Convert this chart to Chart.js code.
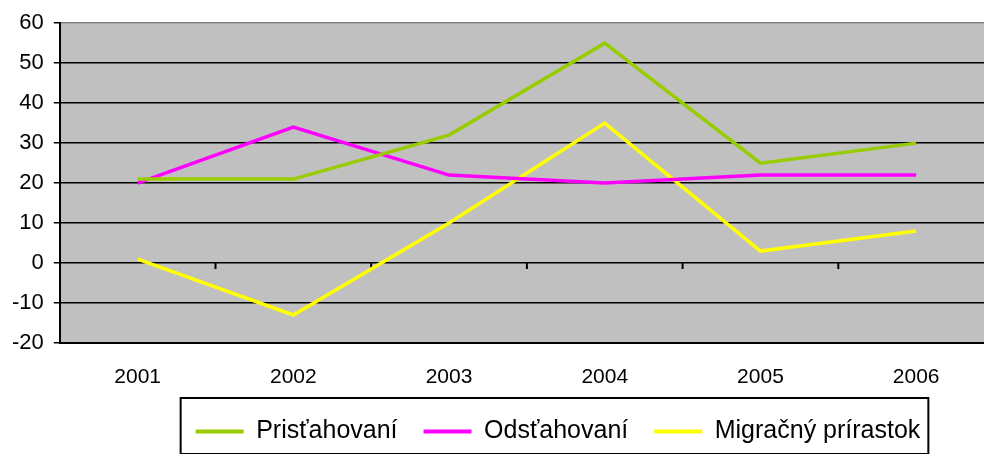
<!DOCTYPE html>
<html>
<head>
<meta charset="utf-8">
<script src="https://cdn.jsdelivr.net/npm/chart.js@4.4.0/dist/chart.umd.min.js"></script>
<style>
html, body { margin: 0; padding: 0; background: #fff; overflow: hidden; }
#wrap { width: 994px; height: 454px; position: relative; }
</style>
</head>
<body>
<div id="wrap"><canvas id="chart"></canvas></div>
<script>
// chart data
const years = ['2001', '2002', '2003', '2004', '2005', '2006'];
const prisťahovaní = [21, 21, 32, 55, 25, 30];
const odsťahovaní = [20, 34, 22, 20, 22, 22];
const migračnýPrírastok = [1, -13, 10, 35, 3, 8];
const yTicks = [-20, -10, 0, 10, 20, 30, 40, 50, 60];

const FONT = 'Liberation Sans, Arial, sans-serif';

// grey plot area
const plotBackground = {
    id: 'plotBackground',
    beforeDraw(chart) {
        const { ctx, chartArea: a } = chart;
        ctx.save();
        ctx.fillStyle = '#c0c0c0';
        ctx.fillRect(a.left, a.top, a.right - a.left, a.bottom - a.top);
        ctx.restore();
    }
};

// category tick marks hanging under the zero line
const zeroTicks = {
    id: 'zeroTicks',
    beforeDatasetsDraw(chart) {
        const { ctx, scales: { x, y } } = chart;
        const y0 = y.getPixelForValue(0);
        ctx.save();
        ctx.strokeStyle = '#000';
        ctx.lineWidth = 2;
        for (let i = 0; i < years.length - 1; i++) {
            const bx = (x.getPixelForValue(i) + x.getPixelForValue(i + 1)) / 2;
            ctx.beginPath();
            ctx.moveTo(bx, y0);
            ctx.lineTo(bx, y0 + 6);
            ctx.stroke();
        }
        ctx.restore();
    }
};

// move legend right and draw its frame
const legendFrame = {
    id: 'legendFrame',
    afterLayout(chart) {
        chart.legend.left += 60;
        chart.legend.right += 60;
    },
    afterDraw(chart) {
        const lg = chart.legend;
        const pad = lg.options.labels.padding;
        const start = (lg.left + pad + lg.right - lg.lineWidths[0]) / 2;
        const end = start + lg.lineWidths[0] - pad;
        const ctx = chart.ctx;
        ctx.save();
        ctx.strokeStyle = '#000';
        ctx.lineWidth = 2;
        ctx.strokeRect(start - 15, lg.top + 5, end - start + 23, 56);
        ctx.restore();
    }
};

function series(label, data, color) {
    return {
        label: label,
        data: data,
        borderColor: color,
        backgroundColor: color,
        borderWidth: 3.5,
        pointRadius: 0,
        tension: 0,
        fill: false
    };
}

new Chart(document.getElementById('chart'), {
    type: 'line',
    data: {
        labels: years,
        datasets: [
            series('Prisťahovaní', prisťahovaní, '#99cc00'),
            series('Odsťahovaní', odsťahovaní, '#ff00ff'),
            series('Migračný prírastok', migračnýPrírastok, '#ffff00')
        ]
    },
    options: {
        responsive: true,
        maintainAspectRatio: false,
        animation: false,
        layout: { padding: { left: 2, top: 22, right: 0, bottom: 0 } },
        plugins: {
            legend: {
                position: 'bottom',
                maxHeight: 63,
                labels: {
                    boxWidth: 48,
                    boxHeight: 4,
                    padding: 26,
                    color: '#000',
                    font: { family: FONT, size: 25 },
                    generateLabels(chart) {
                        return Chart.defaults.plugins.legend.labels.generateLabels(chart)
                            .map(item => Object.assign(item, { lineWidth: 0 }));
                    }
                }
            },
            tooltip: { enabled: false }
        },
        scales: {
            x: {
                offset: true,
                afterFit(scale) { scale.height = 50; },
                grid: { display: false, offset: true, drawTicks: false },
                border: { display: true, color: '#000', width: 2 },
                ticks: {
                    color: '#000',
                    padding: 22,
                    font: { family: FONT, size: 21 }
                }
            },
            y: {
                min: yTicks[0],
                max: yTicks[yTicks.length - 1],
                afterBuildTicks(scale) {
                    scale.ticks = yTicks.map(v => ({ value: v }));
                },
                grid: {
                    color: ctx => ctx.tick && ctx.tick.value === 60 ? '#808080' : '#000',
                    lineWidth: 1.5,
                    tickLength: 6,
                    tickColor: '#000'
                },
                border: { display: true, color: '#000', width: 2 },
                ticks: {
                    color: '#000',
                    padding: 10,
                    font: { family: FONT, size: 22 }
                }
            }
        }
    },
    plugins: [plotBackground, zeroTicks, legendFrame]
});
</script>
</body>
</html>
